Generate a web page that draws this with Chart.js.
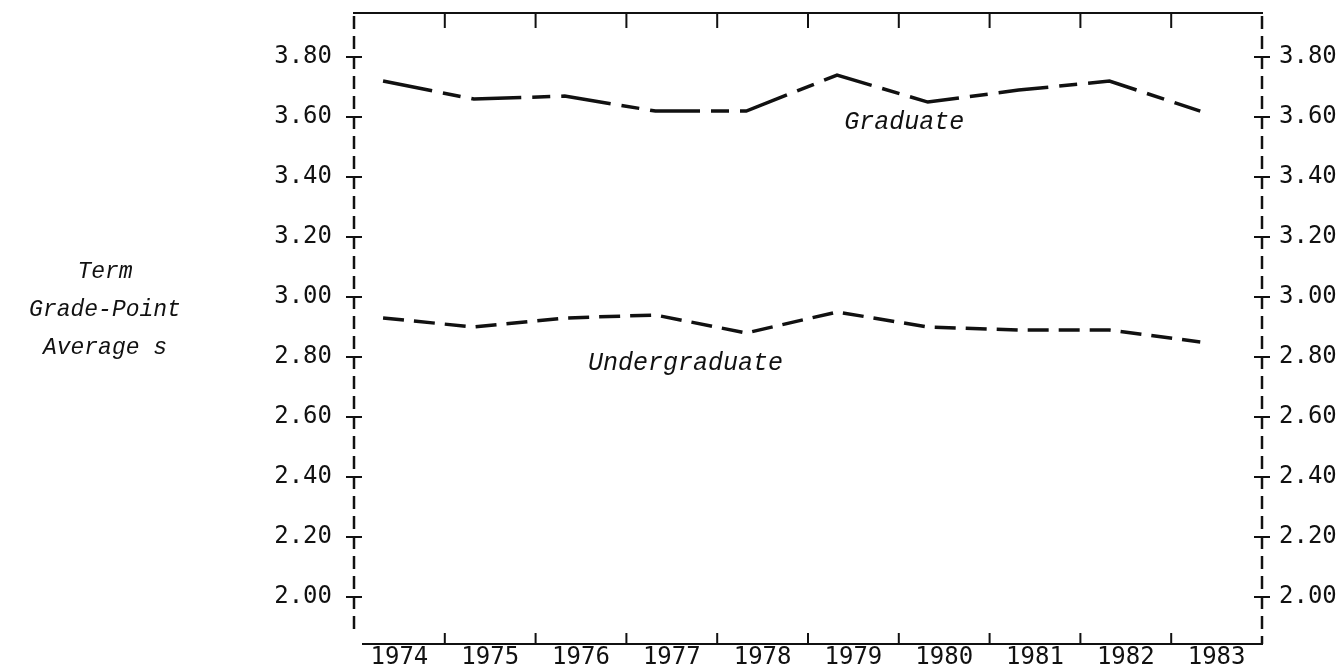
<!DOCTYPE html>
<html>
<head>
<meta charset="utf-8">
<script src="https://cdn.jsdelivr.net/npm/chart.js@4.4.1/dist/chart.umd.min.js"></script>
<style>
  html, body { margin: 0; padding: 0; background: #fff; }
  #wrap { width: 1339px; height: 667px; }
</style>
</head>
<body>
<div id="wrap"><canvas id="gpa" width="1339" height="667"></canvas></div>
<script>
// values
var years = ['1974', '1975', '1976', '1977', '1978', '1979', '1980', '1981', '1982', '1983'];
var graduate = [3.72, 3.66, 3.67, 3.62, 3.62, 3.74, 3.65, 3.69, 3.72, 3.62];
var undergraduate = [2.93, 2.90, 2.93, 2.94, 2.88, 2.95, 2.90, 2.89, 2.89, 2.85];
var yTicks = [2.00, 2.20, 2.40, 2.60, 2.80, 3.00, 3.20, 3.40, 3.60, 3.80];
var yTitle = ['Term', 'Grade-Point', 'Average s'];

var ink = '#111';
var tickFont = { family: '"DejaVu Sans Mono", monospace', size: 24 };
var noteFont = 'italic 25px "Liberation Mono", "DejaVu Sans Mono", monospace';
var titleFont = 'italic 23px "Liberation Mono", "DejaVu Sans Mono", monospace';

function points(vals) {
    return vals.map(function (v, i) { return { x: +years[i], y: v }; });
}

// kill the label overhang padding so the plot box stays where it is put
function noPad(s) {
    s.paddingTop = 0; s.paddingBottom = 0;
    s.paddingLeft = 0; s.paddingRight = 0;
}

// typed frame: solid top and bottom, dashed sides, cross ticks, inside ticks, notes
var decorations = {
    id: 'decorations',
    afterDraw: function (chart) {
        var ctx = chart.ctx;
        var a = chart.chartArea;
        var y = chart.scales.y;
        var x = chart.scales.x;
        var xd = chart.scales.xd;
        ctx.save();
        ctx.strokeStyle = ink;
        ctx.lineWidth = 2;

        // top and bottom rules
        ctx.beginPath();
        ctx.moveTo(a.left - 1, a.top); ctx.lineTo(a.right + 1, a.top);
        ctx.moveTo(a.left + 8, a.bottom); ctx.lineTo(a.right + 1, a.bottom);
        ctx.stroke();

        // dashed side axes
        ctx.lineWidth = 2.5;
        ctx.setLineDash([13, 7]);
        ctx.beginPath();
        ctx.moveTo(a.left, a.top + 3); ctx.lineTo(a.left, a.bottom - 8);
        ctx.moveTo(a.right, a.top + 3); ctx.lineTo(a.right, a.bottom);
        ctx.stroke();
        ctx.setLineDash([]);
        ctx.lineWidth = 2;

        ctx.beginPath();
        yTicks.forEach(function (v) {
            var py = y.getPixelForValue(v);
            ctx.moveTo(a.left - 8, py); ctx.lineTo(a.left + 8, py);
            ctx.moveTo(a.right - 8, py); ctx.lineTo(a.right + 8, py);
        });
        for (var i = 0; i < years.length - 1; i++) {
            var px = x.getPixelForValue(i + 0.5);
            ctx.moveTo(px, a.top); ctx.lineTo(px, a.top + 15);
            ctx.moveTo(px, a.bottom); ctx.lineTo(px, a.bottom - 11);
        }
        ctx.stroke();

        ctx.fillStyle = ink;
        ctx.font = noteFont;
        ctx.textAlign = 'center';
        ctx.textBaseline = 'middle';
        ctx.fillText('Graduate', xd.getPixelForValue(1979.74), y.getPixelForValue(3.583));
        ctx.fillText('Undergraduate', xd.getPixelForValue(1977.33), y.getPixelForValue(2.78));

        ctx.font = titleFont;
        yTitle.forEach(function (t, k) {
            ctx.fillText(t, 105, 272 + k * 38);
        });
        ctx.restore();
    }
};

var ctx = document.getElementById('gpa');
var chart = new Chart(ctx, {
    type: 'line',
    data: {
        labels: years,
        datasets: [{
            label: 'Graduate',
            data: points(graduate),
            xAxisID: 'xd',
            borderColor: ink,
            borderWidth: 3.5,
            borderDash: [50, 11, 18, 11],
            pointRadius: 0,
            tension: 0
        }, {
            label: 'Undergraduate',
            data: points(undergraduate),
            xAxisID: 'xd',
            borderColor: ink,
            borderWidth: 3.5,
            borderDash: [21, 10],
            pointRadius: 0,
            tension: 0
        }]
    },
    options: {
        responsive: false,
        animation: false,
        events: [],
        layout: { padding: 0 },
        plugins: { legend: { display: false }, tooltip: { enabled: false } },
        scales: {
            x: {
                type: 'category',
                position: 'bottom',
                offset: true,
                grid: { display: false, drawTicks: false },
                border: { display: false },
                ticks: { color: ink, font: tickFont, padding: -1, maxRotation: 0, autoSkip: false },
                afterFit: function (s) { s.height = 23; noPad(s); }
            },
            x2: {
                type: 'category',
                position: 'top',
                offset: true,
                grid: { display: false, drawTicks: false },
                border: { display: false },
                ticks: { display: false },
                afterFit: function (s) { s.height = 13; noPad(s); }
            },
            xd: {
                type: 'linear',
                display: false,
                min: 1973.68,
                max: 1983.68
            },
            y: {
                position: 'left',
                min: 1.843,
                max: 3.947,
                grid: { display: false, drawTicks: false },
                border: { display: false },
                afterBuildTicks: function (s) { s.ticks = yTicks.map(function (v) { return { value: v }; }); },
                ticks: {
                    color: ink, font: tickFont, padding: 22,
                    callback: function (v) { return v.toFixed(2); }
                },
                afterFit: function (s) { s.width = 354; noPad(s); }
            },
            y2: {
                position: 'right',
                min: 1.843,
                max: 3.947,
                grid: { display: false, drawTicks: false },
                border: { display: false },
                afterBuildTicks: function (s) { s.ticks = yTicks.map(function (v) { return { value: v }; }); },
                ticks: {
                    color: ink, font: tickFont, padding: 17,
                    callback: function (v) { return v.toFixed(2); }
                },
                afterFit: function (s) { s.width = 77; noPad(s); }
            }
        }
    },
    plugins: [decorations]
});
</script>
</body>
</html>
